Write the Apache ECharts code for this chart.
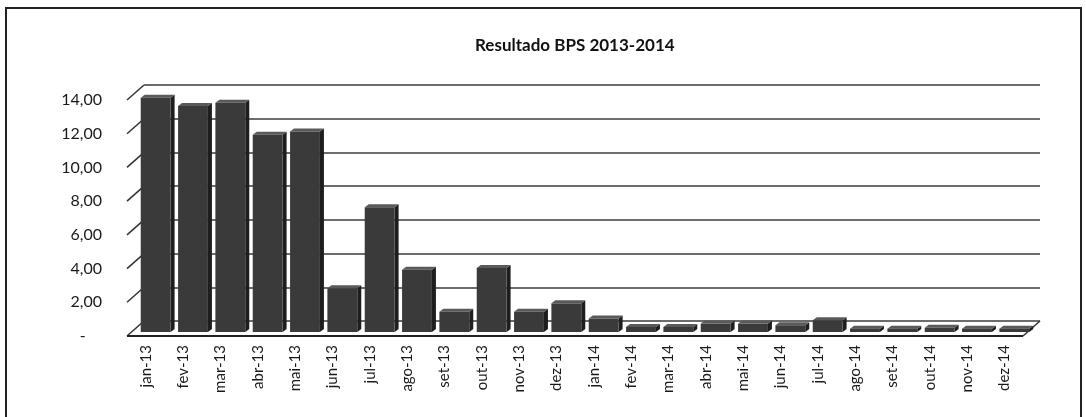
<!DOCTYPE html>
<html>
<head>
    <meta charset="utf-8">
    <title>Resultado BPS 2013-2014</title>
    <script src="https://cdn.jsdelivr.net/npm/echarts@6/dist/echarts.min.js"></script>
    <style type="text/css">
        html, body { margin: 0; padding: 0; background: #ffffff; }
        #chart { width: 1086px; height: 417px; }
    </style>
</head>
<body>
<div id="chart"></div>

<script>
    // dados
    var months = ['jan-13', 'fev-13', 'mar-13', 'abr-13', 'mai-13', 'jun-13', 'jul-13', 'ago-13',
        'set-13', 'out-13', 'nov-13', 'dez-13', 'jan-14', 'fev-14', 'mar-14', 'abr-14',
        'mai-14', 'jun-14', 'jul-14', 'ago-14', 'set-14', 'out-14', 'nov-14', 'dez-14'];
    var values = [13.9, 13.4, 13.6, 11.7, 11.9, 2.6, 7.4, 3.7,
        1.2, 3.8, 1.2, 1.7, 0.8, 0.3, 0.3, 0.5,
        0.5, 0.4, 0.7, 0.2, 0.2, 0.25, 0.2, 0.2];
    var yTicks = [0, 2, 4, 6, 8, 10, 12, 14];

    var DX = 17, DY = -15;   // deslocamento da parede de fundo (efeito 3D)

    var myChart = echarts.init(document.getElementById('chart'));

    function barItem(params, api) {
        var i = api.value(0), v = api.value(1);
        var base = api.coord([i, 0]);
        var top = api.coord([i, v]);
        var band = api.size([1, 0])[0];
        var w = band * 0.8;
        var x0 = base[0] + 10 - w / 2, x1 = x0 + w;
        var yb = base[1] - 4, yt = top[1] - 4;
        var d = 4, dy = -3;
        return {
            type: 'group',
            children: [
                {type: 'polygon', shape: {points: [[x1, yb], [x1 + d, yb + dy], [x1 + d, yt + dy], [x1, yt]]},
                    style: {fill: '#1e1e1e'}},
                {type: 'polygon', shape: {points: [[x0, yt], [x1, yt], [x1 + d, yt + dy], [x0 + d, yt + dy]]},
                    style: {fill: '#5a5a5a'}},
                {type: 'rect', shape: {x: x0, y: yt, width: w, height: yb - yt},
                    style: {fill: '#3a3a3a'}}
            ]
        };
    }

    function wallItem(params, api) {
        var v = api.value(1);
        var p = api.coord([0, v]);
        var band = api.size([1, 0])[0];
        var left = p[0] - band / 2;
        var kids = [
            {type: 'line', shape: {x1: left, y1: p[1], x2: left + DX, y2: p[1] + DY},
                style: {stroke: '#333', lineWidth: 1.5}}
        ];
        if (v === 0) {
            var right = api.coord([months.length - 1, 0])[0] + band / 2;
            kids.push({type: 'line', shape: {x1: left, y1: p[1], x2: right, y2: p[1]},
                style: {stroke: '#222', lineWidth: 2}});
            kids.push({type: 'line', shape: {x1: right, y1: p[1], x2: right + DX, y2: p[1] + DY},
                style: {stroke: '#333', lineWidth: 1.5}});
        }
        return {type: 'group', children: kids};
    }

    var option = {
        backgroundColor: '#ffffff',
        animation: false,
        title: {
            text: 'Resultado BPS 2013-2014',
            left: 470,
            top: 32,
            textStyle: {fontFamily: 'Lato', fontSize: 17, fontWeight: 'bold', color: '#111'}
        },
        graphic: [{
            type: 'rect',
            shape: {x: 6, y: 8, width: 1075, height: 420},
            style: {fill: 'none', stroke: '#222', lineWidth: 2}
        }],
        grid: [
            {left: 127, right: 63, top: 100, bottom: 81},   // plano da frente
            {left: 144, right: 46, top: 85, bottom: 96}     // parede de fundo
        ],
        xAxis: [{
            type: 'category',
            gridIndex: 0,
            data: months,
            axisLine: {show: false},
            axisTick: {show: false},
            axisLabel: {rotate: 90, margin: 9, interval: 0, fontFamily: 'Lato', fontSize: 15, color: '#1a1a1a'}
        }, {
            type: 'category',
            gridIndex: 1,
            data: months,
            show: false
        }],
        yAxis: [{
            type: 'value',
            gridIndex: 0,
            min: 0, max: 14, interval: 2,
            axisLine: {show: false},
            axisTick: {show: false},
            splitLine: {show: false},
            axisLabel: {
                margin: 25,
                fontFamily: 'Lato', fontSize: 16, color: '#1a1a1a',
                formatter: function (v) {
                    return v === 0 ? '-    ' : v.toFixed(2).replace('.', ',');
                }
            }
        }, {
            type: 'value',
            gridIndex: 1,
            min: 0, max: 14, interval: 2,
            axisLine: {show: false},
            axisTick: {show: false},
            axisLabel: {show: false},
            splitLine: {show: true, lineStyle: {color: '#3c3c3c', width: 1.6}}
        }],
        series: [{
            type: 'custom',
            xAxisIndex: 0, yAxisIndex: 0,
            clip: false,
            renderItem: wallItem,
            data: yTicks.map(function (v) { return [0, v]; }),
            z: 1
        }, {
            type: 'custom',
            xAxisIndex: 0, yAxisIndex: 0,
            clip: false,
            renderItem: barItem,
            data: values.map(function (v, i) { return [i, v]; }),
            z: 3
        }]
    };

    myChart.setOption(option);
</script>
</body>
</html>
